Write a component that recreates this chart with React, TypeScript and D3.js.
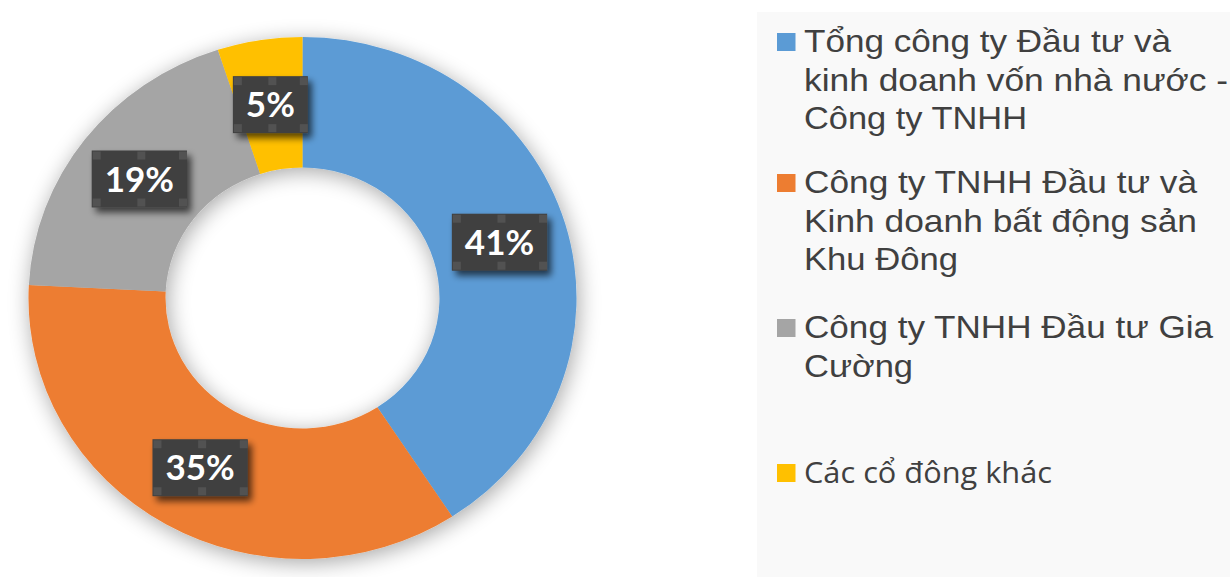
import React, { useEffect, useRef } from "react";
import * as d3 from "d3";

// ---- Data ----
const categories = [
  "Tổng công ty Đầu tư và kinh doanh vốn nhà nước - Công ty TNHH",
  "Công ty TNHH Đầu tư và Kinh doanh bất động sản Khu Đông",
  "Công ty TNHH Đầu tư Gia Cường",
  "Các cổ đông khác",
];
const values = [40.8, 35.0, 19.2, 5.0];
const colors = ["#5B9BD5", "#ED7D31", "#A5A5A5", "#FFC000"];
// legend text as wrapped in the reference
const legendLines = [
  ["Tổng công ty Đầu tư và", "kinh doanh vốn nhà nước -", "Công ty TNHH"],
  ["Công ty TNHH Đầu tư và", "Kinh doanh bất động sản", "Khu Đông"],
  ["Công ty TNHH Đầu tư Gia", "Cường"],
  ["Các cổ đông khác"],
];

// ---- Layout (styles / positions) ----
const W = 1230;
const H = 577;
const CX = 302.5;
const CY = 298;
const RX = 274;
const RY = 261;
const INNER = 0.5;
const legendBaselines = [52, 193, 338, 483];
const legendLineH = 38.7;
const legendWidths = [[367, 424, 223], [393, 393, 154], [409, 109], [248]];
const legendFonts = [
  "'Liberation Sans', Arial, sans-serif",
  "'Liberation Sans', Arial, sans-serif",
  "'Liberation Sans', Arial, sans-serif",
  "'Open Sans', 'Noto Sans', sans-serif",
];
const legendSizes = [32, 32, 32, 29];

export default function App() {
  const ref = useRef<SVGSVGElement | null>(null);

  useEffect(() => {
    const svg = d3.select(ref.current);
    svg.selectAll("*").remove();

    const defs = svg.append("defs");
    const f = defs
      .append("filter")
      .attr("id", "donutShadow")
      .attr("x", "-20%")
      .attr("y", "-20%")
      .attr("width", "140%")
      .attr("height", "140%");
    f.append("feGaussianBlur").attr("in", "SourceAlpha").attr("stdDeviation", 11).attr("result", "b");
    f.append("feOffset").attr("in", "b").attr("dx", 2).attr("dy", 4).attr("result", "o");
    f.append("feComponentTransfer")
      .attr("in", "o")
      .attr("result", "s")
      .append("feFuncA")
      .attr("type", "linear")
      .attr("slope", 0.35);
    const fm = f.append("feMerge");
    fm.append("feMergeNode").attr("in", "s");
    fm.append("feMergeNode").attr("in", "SourceGraphic");

    const lf = defs
      .append("filter")
      .attr("id", "labelShadow")
      .attr("x", "-30%")
      .attr("y", "-30%")
      .attr("width", "160%")
      .attr("height", "160%");
    lf.append("feGaussianBlur").attr("in", "SourceAlpha").attr("stdDeviation", 3.5).attr("result", "b");
    lf.append("feOffset").attr("in", "b").attr("dx", 4).attr("dy", 5).attr("result", "o");
    lf.append("feComponentTransfer")
      .attr("in", "o")
      .attr("result", "s")
      .append("feFuncA")
      .attr("type", "linear")
      .attr("slope", 0.65);
    const lm = lf.append("feMerge");
    lm.append("feMergeNode").attr("in", "s");
    lm.append("feMergeNode").attr("in", "SourceGraphic");

    svg.append("rect").attr("width", W).attr("height", H).attr("fill", "#ffffff");

    // Legend panel
    svg.append("rect").attr("x", 757).attr("y", 12).attr("width", W - 757).attr("height", H - 12).attr("fill", "#f9f9f9");

    // Donut
    const sy = RY / RX;
    const pie = d3.pie<number>().sort(null).value((d) => d);
    const arcs = pie(values);
    const arc = d3.arc<d3.PieArcDatum<number>>().innerRadius(RX * INNER).outerRadius(RX);
    const total = d3.sum(values);

    const g = svg
      .append("g")
      .attr("transform", `translate(${CX},${CY}) scale(1,${sy})`)
      .attr("filter", "url(#donutShadow)");
    g.selectAll("path")
      .data(arcs)
      .join("path")
      .attr("d", (d) => arc(d) as string)
      .attr("fill", (d, i) => colors[i]);

    // Data labels
    arcs.forEach((d, i) => {
      const [x, y] = arc.centroid(d);
      const lx = CX + x;
      const ly = CY + y * sy;
      const lg = svg.append("g").attr("transform", `translate(${lx},${ly})`);
      const box = lg.append("rect").attr("fill", "#404040").attr("filter", "url(#labelShadow)");
      const t = lg
        .append("text")
        .attr("text-anchor", "middle")
        .attr("dy", "0.36em")
        .attr("fill", "#ffffff")
        .attr("font-family", "Lato, 'Open Sans', sans-serif")
        .attr("font-weight", 700)
        .attr("font-size", 35)
        .text(`${Math.round((values[i] / total) * 100)}%`);
      const tw = (t.node() as SVGTextElement).getComputedTextLength();
      const bw = tw + 26;
      const bh = 57;
      box.attr("x", -bw / 2).attr("y", -bh / 2).attr("width", bw).attr("height", bh);
      // selection-handle squares
      const hs = 8;
      const hx = [-bw / 2 + 1, -hs / 2 + 2, bw / 2 - hs];
      const hy = [-bh / 2 + 1, bh / 2 - hs - 1];
      hx.forEach((xx) =>
        hy.forEach((yy) => {
          lg.insert("rect", "text")
            .attr("x", xx)
            .attr("y", yy)
            .attr("width", hs)
            .attr("height", hs)
            .attr("fill", "#525252");
        })
      );
    });

    // Legend
    categories.forEach((c, i) => {
      const base = legendBaselines[i];
      svg
        .append("rect")
        .attr("x", 777)
        .attr("y", base - 19)
        .attr("width", 18.5)
        .attr("height", 18)
        .attr("fill", colors[i]);
      const t = svg
        .append("text")
        .attr("fill", "#404040")
        .attr("font-family", legendFonts[i])
        .attr("font-size", legendSizes[i]);
      legendLines[i].forEach((ln, j) => {
        t.append("tspan")
          .attr("x", 804)
          .attr("y", base + j * legendLineH)
          .attr("textLength", legendWidths[i][j])
          .attr("lengthAdjust", "spacingAndGlyphs")
          .text(ln);
      });
    });
  }, []);

  return (
    <svg
      ref={ref}
      width={W}
      height={H}
      style={{ position: "absolute", left: 0, top: 0, display: "block" }}
    />
  );
}
